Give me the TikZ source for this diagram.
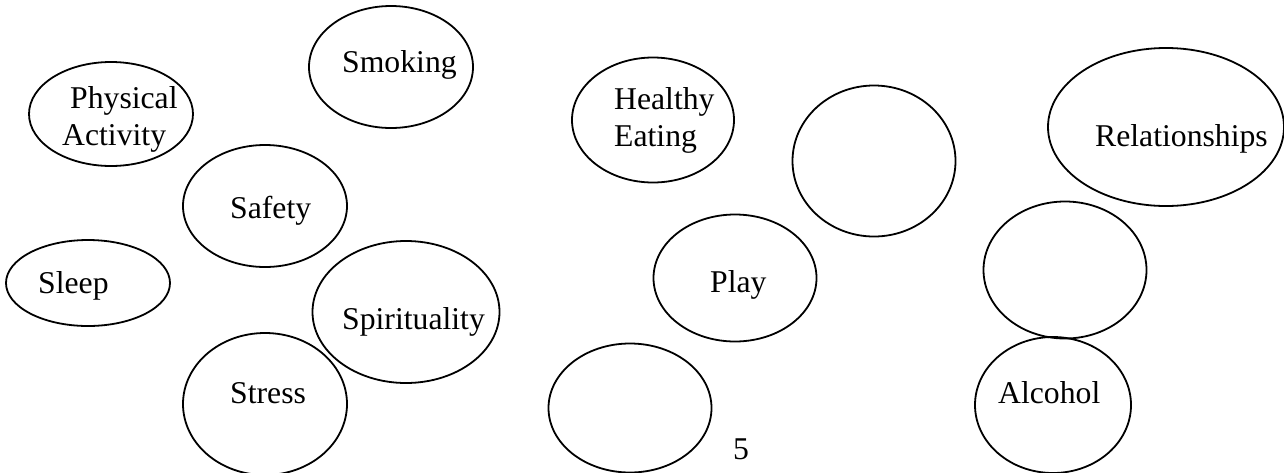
\documentclass[tikz,border=0pt]{standalone}
\usepackage{fontspec}
\setmainfont{Liberation Serif}
\usetikzlibrary{shapes.geometric}
\begin{document}
\begin{tikzpicture}[x=1pt,y=-1pt,
  bubble/.style={draw,ellipse,line width=1.8pt,inner sep=0pt},
  lbl/.style={anchor=base west,inner sep=0pt,font=\fontsize{31.7}{38}\selectfont}]
\useasboundingbox (0,0) rectangle (1284,472);
% ellipses: center, width, height
\node[bubble,minimum width=164,minimum height=104] (pa) at (111,114) {};
\node[bubble,minimum width=164,minimum height=122] (smk) at (391,67) {};
\node[bubble,minimum width=164,minimum height=122] (saf) at (265,206) {};
\node[bubble,minimum width=164,minimum height=86] (slp) at (88,283) {};
\node[bubble,minimum width=187,minimum height=142] (spi) at (406,312) {};
\node[bubble,minimum width=164,minimum height=142] (str) at (265,404) {};
\node[bubble,minimum width=162,minimum height=125] (he) at (653,120) {};
\node[bubble,minimum width=163,minimum height=151] (e1) at (874,161) {};
\node[bubble,minimum width=163,minimum height=127] (ply) at (735,278) {};
\node[bubble,minimum width=163,minimum height=129] (e2) at (630,408) {};
\node[bubble,minimum width=236,minimum height=158] (rel) at (1166,127) {};
\node[bubble,minimum width=163,minimum height=137] (e3) at (1065,270) {};
\node[bubble,minimum width=156,minimum height=136] (alc) at (1053,405) {};
% labels
\node[lbl] (t1) at (70,108) {Physical};
\node[lbl] (t2) at (62,145) {Activity};
\node[lbl] (t3) at (342,72) {Smoking};
\node[lbl] (t4) at (230,218) {Safety};
\node[lbl] (t5) at (38,293) {Sleep};
\node[lbl] (t6) at (342,329) {Spirituality};
\node[lbl] (t7) at (230,403) {Stress};
\node[lbl] (t8) at (614,109) {Healthy};
\node[lbl] (t9) at (614,146) {Eating};
\node[lbl] (t10) at (710,292) {Play};
\node[lbl] (t11) at (733,459) {5};
\node[lbl] (t12) at (1095,146) {Relationships};
\node[lbl] (t13) at (998,403) {Alcohol};
\end{tikzpicture}
\end{document}
